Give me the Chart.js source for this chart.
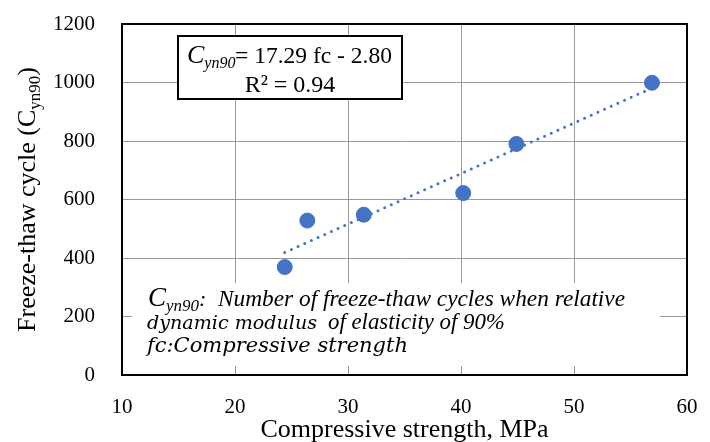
<!DOCTYPE html>
<html>
<head>
<meta charset="utf-8">
<script src="https://cdn.jsdelivr.net/npm/chart.js@4.4.1/dist/chart.umd.min.js"></script>
<style>
  body { margin: 0; background: #fff; }
</style>
</head>
<body>
<canvas id="freezeThawCanvas" width="710" height="442"></canvas>
<script>
// values
const strength = [24.4, 26.4, 31.4, 40.2, 44.9, 56.9];
const cycles = [369, 528, 548, 622, 790, 999];
const trendX = [24.4, 56.9];
const trendY = [419, 981];
const xTicks = [10, 20, 30, 40, 50, 60];
const yTicks = [0, 200, 400, 600, 800, 1000, 1200];

const serif = '"Liberation Serif", "Times New Roman", serif';
const mathItalic = '"DejaVu Serif", serif';
const blue = '#4472C4';

// draw a run of text pieces left to right, returns end x
function drawRuns(ctx, x, y, runs) {
    runs.forEach(r => {
        ctx.font = r.font;
        ctx.fillText(r.t, x, y + (r.dy || 0));
        x += ctx.measureText(r.t).width;
    });
    return x;
}
function runsWidth(ctx, runs) {
    let w = 0;
    runs.forEach(r => { ctx.font = r.font; w += ctx.measureText(r.t).width; });
    return w;
}
// font size so that text spans the given width
function fitFont(ctx, text, style, family, width) {
    ctx.font = style + ' 20px ' + family;
    const size = 20 * width / ctx.measureText(text).width;
    return style + ' ' + size.toFixed(2) + 'px ' + family;
}

const decorPlugin = {
    id: 'decor',
    afterDraw(chart) {
        const ctx = chart.ctx;
        const a = chart.chartArea;
        ctx.save();

        // plot frame
        ctx.strokeStyle = '#000';
        ctx.lineWidth = 2;
        ctx.strokeRect(a.left, a.top, a.right - a.left, a.bottom - a.top);

        ctx.textBaseline = 'alphabetic';
        ctx.textAlign = 'left';

        // equation box
        ctx.fillStyle = '#fff';
        ctx.fillRect(178, 36, 224, 63);
        ctx.strokeRect(178, 36, 224, 63);
        ctx.fillStyle = '#000';
        drawRuns(ctx, 187, 63, [
            { t: 'C', font: 'italic 26px ' + serif },
            { t: 'yn90', font: 'italic 16px ' + serif, dy: 5 }
        ]);
        ctx.font = fitFont(ctx, '= 17.29 fc - 2.80', 'normal', serif, 157);
        ctx.fillText('= 17.29 fc - 2.80', 235, 63);
        ctx.font = '24px ' + serif;
        ctx.textAlign = 'center';
        ctx.fillText('R\u00B2 = 0.94', 290, 92);
        ctx.textAlign = 'left';

        // note block
        ctx.fillStyle = '#fff';
        ctx.fillRect(132, 283, 528, 83);
        ctx.fillStyle = '#000';
        drawRuns(ctx, 148, 306, [
            { t: 'C', font: 'italic 27px ' + serif },
            { t: 'yn90', font: 'italic 17px ' + serif, dy: 5 },
            { t: ':', font: 'italic 22px ' + serif }
        ]);
        const l1 = 'Number of freeze-thaw cycles when relative';
        ctx.font = fitFont(ctx, l1, 'italic', serif, 407);
        ctx.fillText(l1, 218, 306);

        const l2a = 'dynamic modulus';
        ctx.font = fitFont(ctx, l2a, 'italic', mathItalic, 170);
        ctx.fillText(l2a, 147, 329);
        const l2b = 'of elasticity of 90%';
        ctx.font = fitFont(ctx, l2b, 'italic', serif, 177);
        ctx.fillText(l2b, 328, 329);

        const l3 = 'fc:Compressive strength';
        ctx.font = fitFont(ctx, l3, 'italic', mathItalic, 261);
        ctx.fillText(l3, 147, 352);

        // x axis title
        ctx.font = '26px ' + serif;
        ctx.textAlign = 'center';
        ctx.fillText('Compressive strength, MPa', (a.left + a.right) / 2, 437);

        // y axis title, rotated
        const yRuns = [
            { t: 'Freeze-thaw cycle (C', font: '26px ' + serif },
            { t: 'yn90', font: '17px ' + serif, dy: 5 },
            { t: ')', font: '26px ' + serif }
        ];
        ctx.textAlign = 'left';
        ctx.translate(35, (a.top + a.bottom) / 2);
        ctx.rotate(-Math.PI / 2);
        drawRuns(ctx, -runsWidth(ctx, yRuns) / 2, 0, yRuns);

        ctx.restore();
    }
};

const ctxFreeze = document.getElementById('freezeThawCanvas').getContext('2d');
const freezeChart = new Chart(ctxFreeze, {
    type: 'scatter',
    data: {
        datasets: [{
            type: 'line',
            label: 'Trend',
            data: trendX.map((x, i) => ({ x: x, y: trendY[i] })),
            borderColor: blue,
            borderWidth: 3,
            borderDash: [0, 7.3],
            borderCapStyle: 'round',
            pointRadius: 0,
            fill: false,
            order: 0
        }, {
            label: 'Cyn90',
            data: strength.map((x, i) => ({ x: x, y: cycles[i] })),
            backgroundColor: blue,
            borderColor: blue,
            pointRadius: 7.5,
            pointHoverRadius: 7.5,
            order: 1
        }]
    },
    options: {
        responsive: false,
        animation: false,
        events: [],
        layout: { padding: { left: 0, top: 24, right: 23, bottom: 0 } },
        plugins: {
            legend: { display: false },
            tooltip: { enabled: false }
        },
        scales: {
            x: {
                type: 'linear',
                min: 10,
                max: 60,
                afterFit: s => { s.height = 67; s.paddingLeft = 0; s.paddingRight = 0; },
                afterBuildTicks: s => { s.ticks = xTicks.map(v => ({ value: v })); },
                grid: { color: '#999', lineWidth: 1, drawTicks: false },
                border: { display: false },
                ticks: { color: '#000', padding: 20, font: { family: serif, size: 21 }, callback: v => String(v) }
            },
            y: {
                min: 0,
                max: 1200,
                afterFit: s => { s.width = 122; s.paddingTop = 0; s.paddingBottom = 0; },
                afterBuildTicks: s => { s.ticks = yTicks.map(v => ({ value: v })); },
                grid: { color: '#999', lineWidth: 1, drawTicks: false },
                border: { display: false },
                ticks: { color: '#000', padding: 27, font: { family: serif, size: 21 }, callback: v => String(v) }
            }
        }
    },
    plugins: [decorPlugin]
});
</script>
</body>
</html>
